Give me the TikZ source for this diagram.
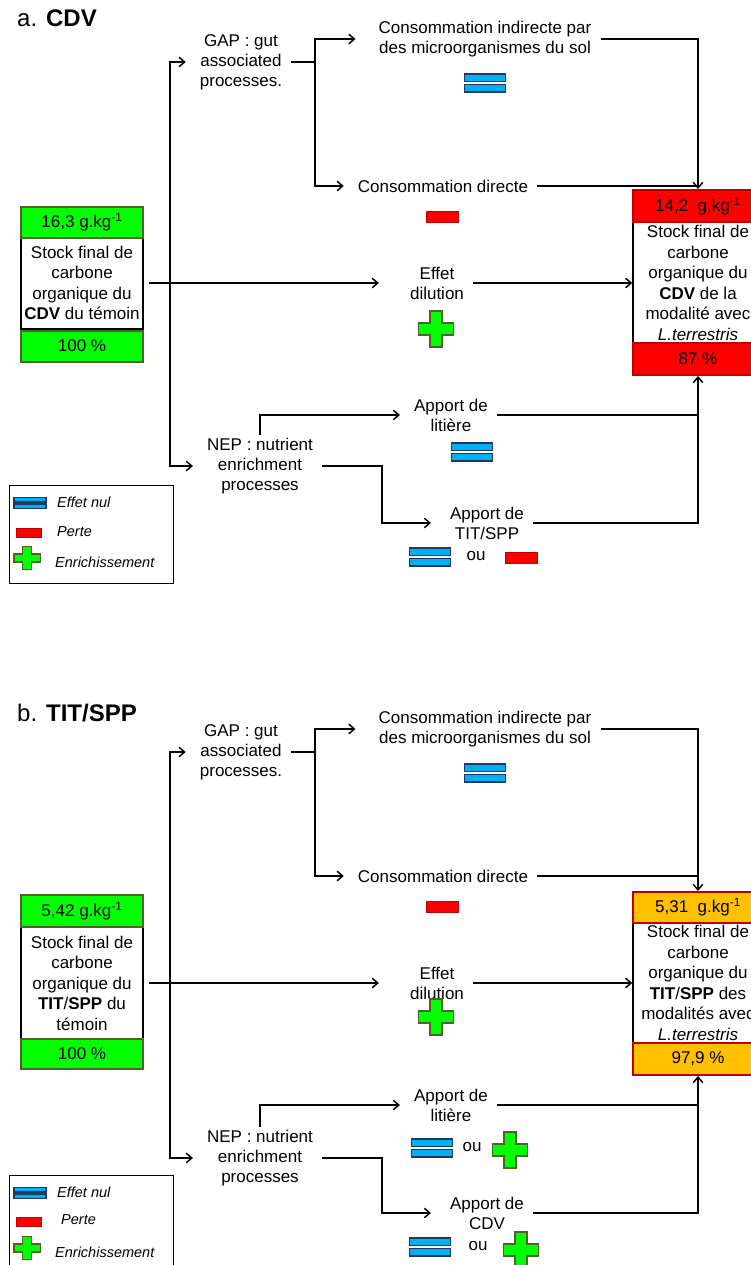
\documentclass[tikz,border=0pt]{standalone}
\usepackage{fontspec}
\setmainfont{Liberation Sans}
\usetikzlibrary{arrows.meta,calc}
\definecolor{leaf}{RGB}{0,255,0}
\definecolor{moss}{RGB}{79,98,40}
\definecolor{scarlet}{RGB}{255,0,0}
\definecolor{ruby}{RGB}{192,0,0}
\definecolor{amber}{RGB}{255,192,0}
\definecolor{sky}{RGB}{0,176,240}
\definecolor{navy}{RGB}{31,56,100}
\tikzset{
  >={Straight Barb[length=5.5pt,width=9.5pt]},
  wire/.style={line width=1.5pt},
  feed/.style={wire,->,shorten >=#1},
  feed/.default=5pt,
  lbl/.style={align=center,font=\fontsize{17}{20}\selectfont,inner xsep=9pt,inner ysep=3pt},
  title/.style={anchor=west,font=\fontsize{24}{28}\selectfont,inner sep=0pt},
  head/.style={fill=#1,draw=moss,line width=2pt,minimum width=122pt,minimum height=31pt,
    inner sep=0pt,font=\fontsize{17}{20}\selectfont},
  head/.default=leaf,
  loss/.style={head=#1,draw=ruby},
  loss/.default=scarlet,
  body/.style={draw=black,fill=white,line width=1.5pt,minimum width=122pt,inner sep=0pt,
    align=center,font=\fontsize{17}{20.5}\selectfont},
  key/.style={anchor=west,font=\fontsize{14.5}{17}\selectfont\itshape,inner sep=0pt},
  frame/.style={draw=black,line width=1.4pt,anchor=north west,minimum width=164pt,inner sep=0pt},
  % icones
  pics/nul/.style={code={
    \foreach \s in {-1,1} \draw[navy,fill=sky,line width=1.6pt] (-20.5,\s*1.6) rectangle (20.5,\s*8.8);
  }},
  pics/perte/.style={code={
    \draw[ruby,fill=scarlet,line width=1pt] (-16,-5.5) rectangle (16,5.5);
  }},
  pics/gain/.style={code={
    \draw[moss,fill=leaf,line width=1.6pt] (-6,-18) -- (6,-18) -- (6,-6) -- (17.5,-6) -- (17.5,6) -- (6,6)
      -- (6,18) -- (-6,18) -- (-6,6) -- (-17.5,6) -- (-17.5,-6) -- (-6,-6) -- cycle;
  }},
}
\begin{document}
\begin{tikzpicture}[x=1pt,y=-1pt]
\useasboundingbox (0,0) rectangle (750,1265);
% a. CDV
\node[title] (titreA) at (17,18) {a. \textbf{CDV}};
\node[body,minimum height=92pt] (bodyA) at (82,283) {Stock final de\\carbone\\organique du\\\textbf{CDV} du t\'emoin};
\node[head] (headA) at (82,222.5) {16,3 g.kg\textsuperscript{-1}};
\node[head] (footA) at (82,346) {100 \%};
\node[body,minimum width=130pt,minimum height=121pt] (rbodyA) at (698,283) {Stock final de\\carbone\\organique du\\\textbf{CDV} de la\\modalit\'e avec\\\textit{L.terrestris}};
\node[loss,minimum width=130pt,minimum height=32pt] (rheadA) at (698,206) {14,2~~g.kg\textsuperscript{-1}};
\node[loss,minimum width=130pt,minimum height=32pt] (rfootA) at (698,359) {87 \%};
\node[lbl] (gapA) at (241,62) {GAP : gut\\associated\\processes.};
\node[lbl] (indA) at (485,39) {Consommation indirecte par\\des microorganismes du sol};
\node[lbl] (dirA) at (443,186) {Consommation directe};
\node[lbl] (dilA) at (437,283) {Effet\\dilution};
\node[lbl] (nepA) at (260,466) {NEP : nutrient\\enrichment\\processes};
\node[lbl] (litA) at (451,415) {Apport de\\liti\`ere};
\node[lbl] (titA) at (487,523) {Apport de\\TIT/SPP};
\node[lbl] (ouA) at (476,556) {ou};
\pic at (485,83) {nul};
\pic at (442,217) {perte};
\pic at (436,329) {gain};
\pic at (472,452) {nul};
\pic at (430,557) {nul};
\pic at (521,558) {perte};
\coordinate (jA) at (170,283);
\coordinate (kA) at (315,62);
\coordinate (mA) at (382,466);
\draw[feed=22pt,shorten <=5pt] (bodyA) -- (dilA);
\draw[feed] (jA) |- (gapA);
\draw[feed] (jA) |- (nepA);
\draw[wire] (gapA) -- (kA);
\draw[feed=14pt] (kA) |- (indA);
\draw[feed] (kA) |- (dirA);
\draw[feed=0pt] (indA) -| (rheadA);
\draw[wire] (dirA) -- (dirA -| rheadA);
\draw[feed=0pt] (dilA) -- (rbodyA);
\draw[feed] (nepA) |- (litA);
\draw[feed=10pt] (nepA) -- (mA) |- (titA);
\draw[wire] (litA) -- (litA -| rfootA);
\draw[feed=0pt] (titA) -| (rfootA);
\node[frame,minimum height=98pt] (legA) at (9,485) {};
\pic[xscale=.78,yscale=.63] at (30,503) {nul};
\pic[xscale=.8,yscale=.75] at (29,533) {perte};
\pic[xscale=.76,yscale=.64] at (27,558) {gain};
\node[key] (nulA) at (57,502) {Effet nul};
\node[key] (perteA) at (57,532) {Perte};
\node[key] (gainA) at (55,562) {Enrichissement};
% b. TIT/SPP
\node[title] (titreB) at (17,713) {b. \textbf{TIT/SPP}};
\node[body,minimum height=112pt] (bodyB) at (82,983) {Stock final de\\carbone\\organique du\\\textbf{TIT}/\textbf{SPP} du\\t\'emoin};
\node[head,minimum height=32pt] (headB) at (82,911) {5,42 g.kg\textsuperscript{-1}};
\node[head,minimum height=30pt] (footB) at (82,1054) {100 \%};
\node[body,minimum width=130pt,minimum height=120pt] (rbodyB) at (698,983) {Stock final de\\carbone\\organique du\\\textbf{TIT}/\textbf{SPP} des\\modalit\'es avec\\\textit{L.terrestris}};
\node[loss=amber,minimum width=130pt,minimum height=31pt] (rheadB) at (698,907.5) {5,31~~g.kg\textsuperscript{-1}};
\node[loss=amber,minimum width=130pt,minimum height=32pt] (rfootB) at (698,1059) {97,9 \%};
\node[lbl] (gapB) at (241,752) {GAP : gut\\associated\\processes.};
\node[lbl] (indB) at (485,729) {Consommation indirecte par\\des microorganismes du sol};
\node[lbl] (dirB) at (443,876) {Consommation directe};
\node[lbl] (dilB) at (437,983) {Effet\\dilution};
\node[lbl] (nepB) at (260,1158) {NEP : nutrient\\enrichment\\processes};
\node[lbl] (litB) at (451,1105) {Apport de\\liti\`ere};
\node[lbl] (cdvB) at (487,1213) {Apport de\\CDV};
\node[lbl] (ouB) at (472,1147) {ou};
\node[lbl] (ouC) at (478,1246) {ou};
\pic at (485,773) {nul};
\pic at (442,907) {perte};
\pic at (436,1017) {gain};
\pic at (432,1148) {nul};
\pic at (510,1150) {gain};
\pic at (430,1247) {nul};
\pic at (521,1250) {gain};
\coordinate (jB) at (170,983);
\coordinate (kB) at (315,752);
\coordinate (mB) at (382,1158);
\draw[feed=22pt,shorten <=5pt] (bodyB) -- (dilB);
\draw[feed] (jB) |- (gapB);
\draw[feed] (jB) |- (nepB);
\draw[wire] (gapB) -- (kB);
\draw[feed=14pt] (kB) |- (indB);
\draw[feed] (kB) |- (dirB);
\draw[feed=0pt] (indB) -| (rheadB);
\draw[wire] (dirB) -- (dirB -| rheadB);
\draw[feed=0pt] (dilB) -- (rbodyB);
\draw[feed] (nepB) |- (litB);
\draw[feed=10pt] (nepB) -- (mB) |- (cdvB);
\draw[wire] (litB) -- (litB -| rfootB);
\draw[feed=0pt] (cdvB) -| (rfootB);
\node[frame,minimum height=98pt] (legB) at (9,1175) {};
\pic[xscale=.78,yscale=.63] at (30,1193) {nul};
\pic[xscale=.8,yscale=.75] at (29,1222) {perte};
\pic[xscale=.76,yscale=.64] at (27,1248) {gain};
\node[key] (nulB) at (57,1192) {Effet nul};
\node[key] (perteB) at (61,1220) {Perte};
\node[key] (gainB) at (55,1252) {Enrichissement};
\end{tikzpicture}
\end{document}
